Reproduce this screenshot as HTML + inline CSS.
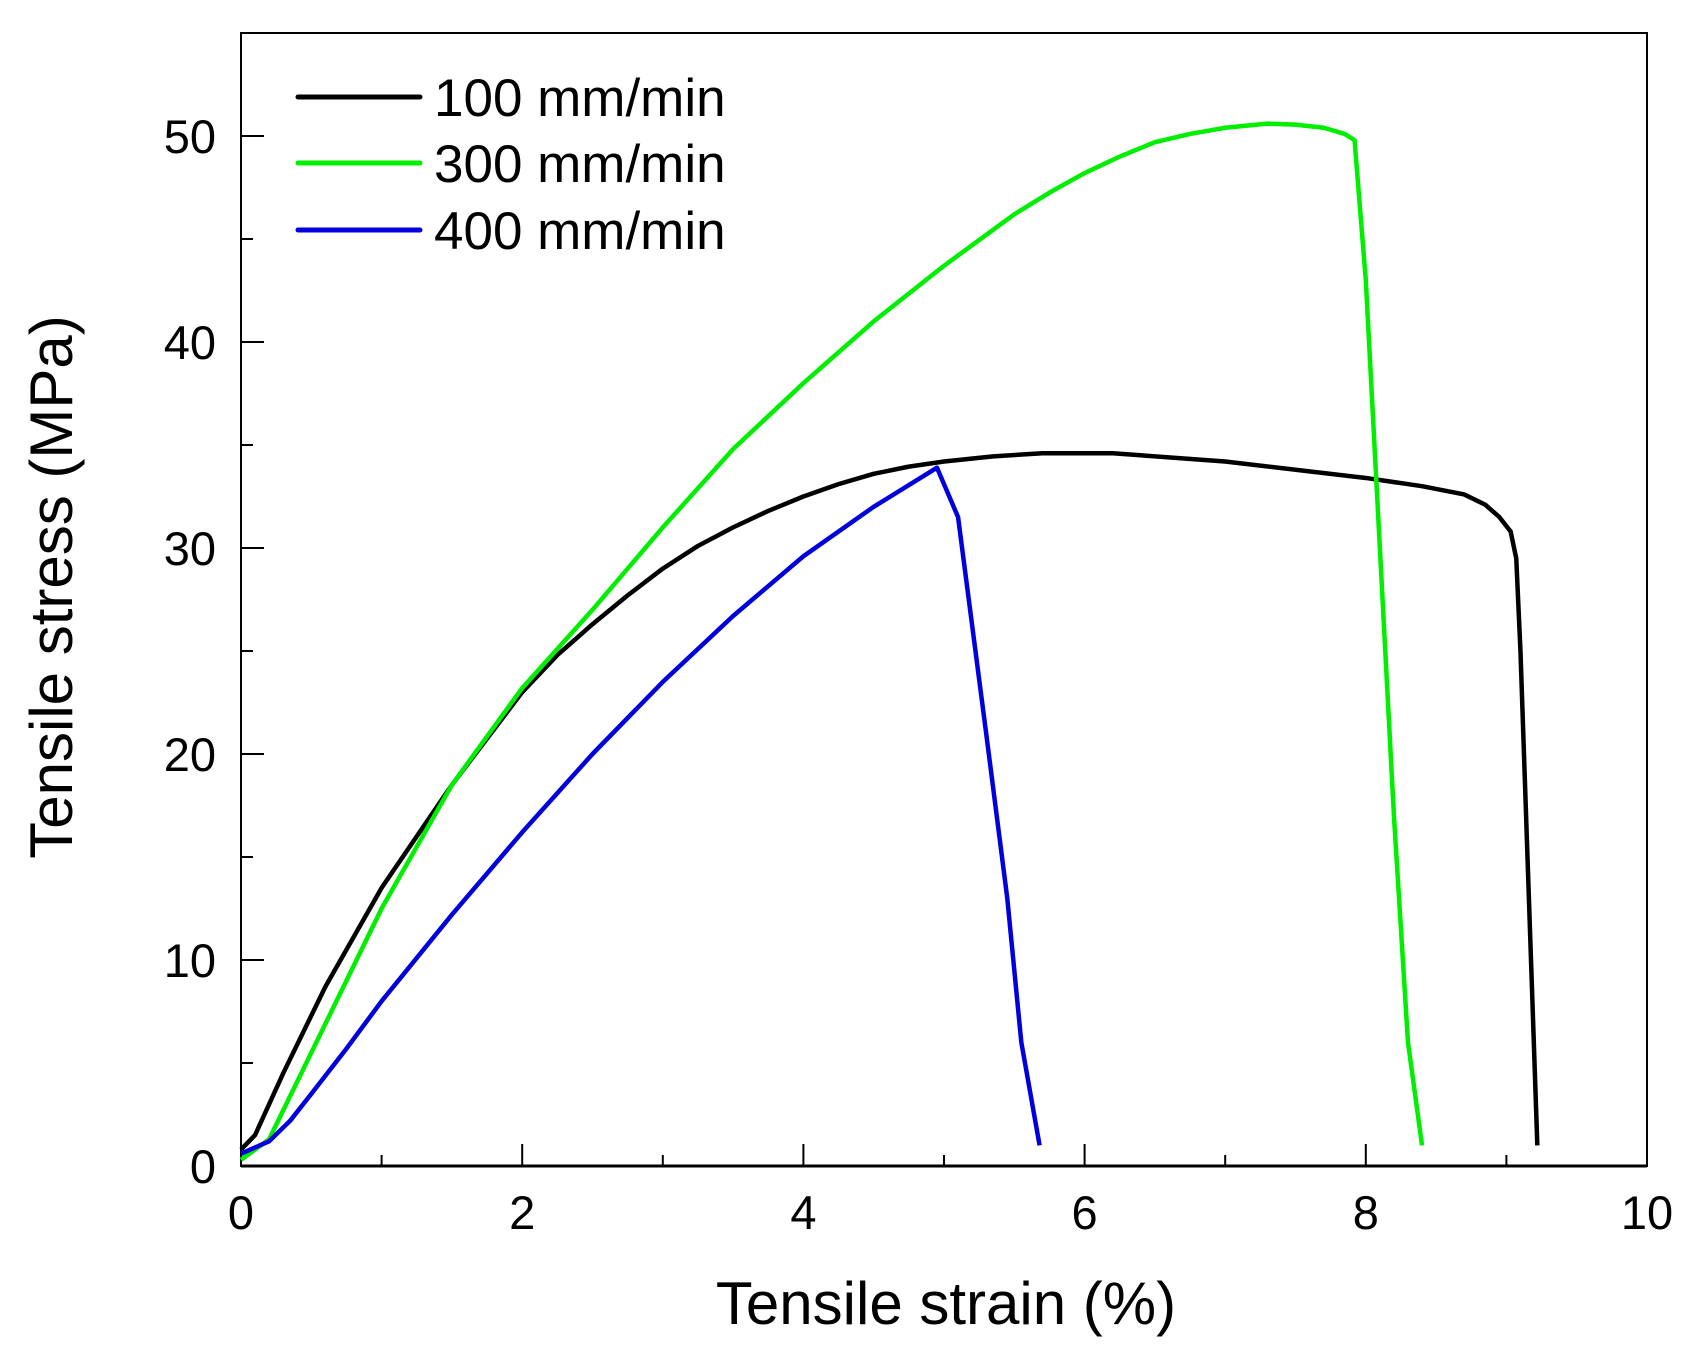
<!DOCTYPE html>
<html><head><style>
html,body{margin:0;padding:0;background:#fff}
svg{display:block}
text{font-family:"Liberation Sans",Arial,sans-serif;fill:#000}
</style></head><body>
<svg width="1704" height="1367" viewBox="0 0 1704 1367" xmlns="http://www.w3.org/2000/svg">
<rect x="241" y="33" width="1406" height="1133" fill="none" stroke="#000" stroke-width="2"/>
<line x1="241" y1="1166" x2="1647" y2="1166" stroke="#000" stroke-width="3"/>
<g stroke="#000" stroke-width="2">
<line x1="241" y1="1166" x2="241" y2="1144"/>
<line x1="381.6" y1="1166" x2="381.6" y2="1155"/>
<line x1="522.2" y1="1166" x2="522.2" y2="1144"/>
<line x1="662.8" y1="1166" x2="662.8" y2="1155"/>
<line x1="803.4" y1="1166" x2="803.4" y2="1144"/>
<line x1="944" y1="1166" x2="944" y2="1155"/>
<line x1="1084.6" y1="1166" x2="1084.6" y2="1144"/>
<line x1="1225.2" y1="1166" x2="1225.2" y2="1155"/>
<line x1="1365.8" y1="1166" x2="1365.8" y2="1144"/>
<line x1="1506.4" y1="1166" x2="1506.4" y2="1155"/>
<line x1="241" y1="1063" x2="253" y2="1063"/>
<line x1="241" y1="960" x2="264" y2="960"/>
<line x1="241" y1="857" x2="253" y2="857"/>
<line x1="241" y1="754" x2="264" y2="754"/>
<line x1="241" y1="651" x2="253" y2="651"/>
<line x1="241" y1="548" x2="264" y2="548"/>
<line x1="241" y1="445" x2="253" y2="445"/>
<line x1="241" y1="342" x2="264" y2="342"/>
<line x1="241" y1="239" x2="253" y2="239"/>
<line x1="241" y1="136" x2="264" y2="136"/>
</g>
<g font-size="47" text-anchor="end">
<text x="216" y="1183">0</text>
<text x="216" y="977">10</text>
<text x="216" y="771">20</text>
<text x="216" y="565">30</text>
<text x="216" y="359">40</text>
<text x="216" y="153">50</text>
</g>
<g font-size="47" text-anchor="middle">
<text x="241" y="1229">0</text>
<text x="522.2" y="1229">2</text>
<text x="803.4" y="1229">4</text>
<text x="1084.6" y="1229">6</text>
<text x="1365.8" y="1229">8</text>
<text x="1647" y="1229">10</text>
</g>
<text x="946" y="1324" font-size="60" text-anchor="middle">Tensile strain (%)</text>
<text transform="translate(72,587) rotate(-90)" font-size="60" text-anchor="middle">Tensile stress (MPa)</text>
<g stroke-width="5" stroke-linecap="round">
<line x1="298" y1="97" x2="420" y2="97" stroke="#000"/>
<line x1="298" y1="163" x2="420" y2="163" stroke="#00ee00"/>
<line x1="298" y1="230" x2="420" y2="230" stroke="#0000dd"/>
</g>
<g font-size="53">
<text x="434" y="116">100 mm/min</text>
<text x="434" y="182">300 mm/min</text>
<text x="434" y="249">400 mm/min</text>
</g>
<g transform="translate(241,1166) scale(140.6,-20.6)" fill="none" stroke-linejoin="round">
<polyline vector-effect="non-scaling-stroke" stroke="#000" stroke-width="4.5" points="0,0.8 0.1,1.5 0.3,4.5 0.6,8.7 1,13.5 1.5,18.5 2,23 2.25,24.8 2.5,26.3 2.75,27.7 3,29 3.25,30.1 3.5,31 3.75,31.8 4,32.5 4.25,33.1 4.5,33.6 4.75,33.95 5,34.2 5.35,34.45 5.7,34.6 6.2,34.6 7,34.2 8,33.4 8.4,33 8.7,32.6 8.85,32.1 8.95,31.5 9.03,30.8 9.07,29.5 9.1,25 9.15,15 9.22,1"/>
<polyline vector-effect="non-scaling-stroke" stroke="#00ee00" stroke-width="4.5" points="0,0.3 0.2,1.3 0.5,5.5 1,12.5 1.5,18.5 2,23.2 2.5,27 3,31 3.5,34.8 4,38 4.5,41 5,43.7 5.5,46.2 5.75,47.25 6,48.2 6.25,49 6.5,49.7 6.75,50.1 7,50.4 7.3,50.6 7.5,50.55 7.7,50.4 7.85,50.1 7.92,49.8 8.0,43 8.1,30 8.2,17 8.3,6 8.4,1"/>
<polyline vector-effect="non-scaling-stroke" stroke="#0000dd" stroke-width="4.5" points="0,0.6 0.2,1.2 0.35,2.2 0.5,3.5 0.75,5.7 1,8 1.5,12.2 2,16.2 2.5,20 3,23.5 3.5,26.7 4,29.6 4.5,32 4.95,33.9 5.1,31.5 5.3,21 5.45,13 5.55,6 5.68,1"/>
</g>
</svg>
</body></html>
